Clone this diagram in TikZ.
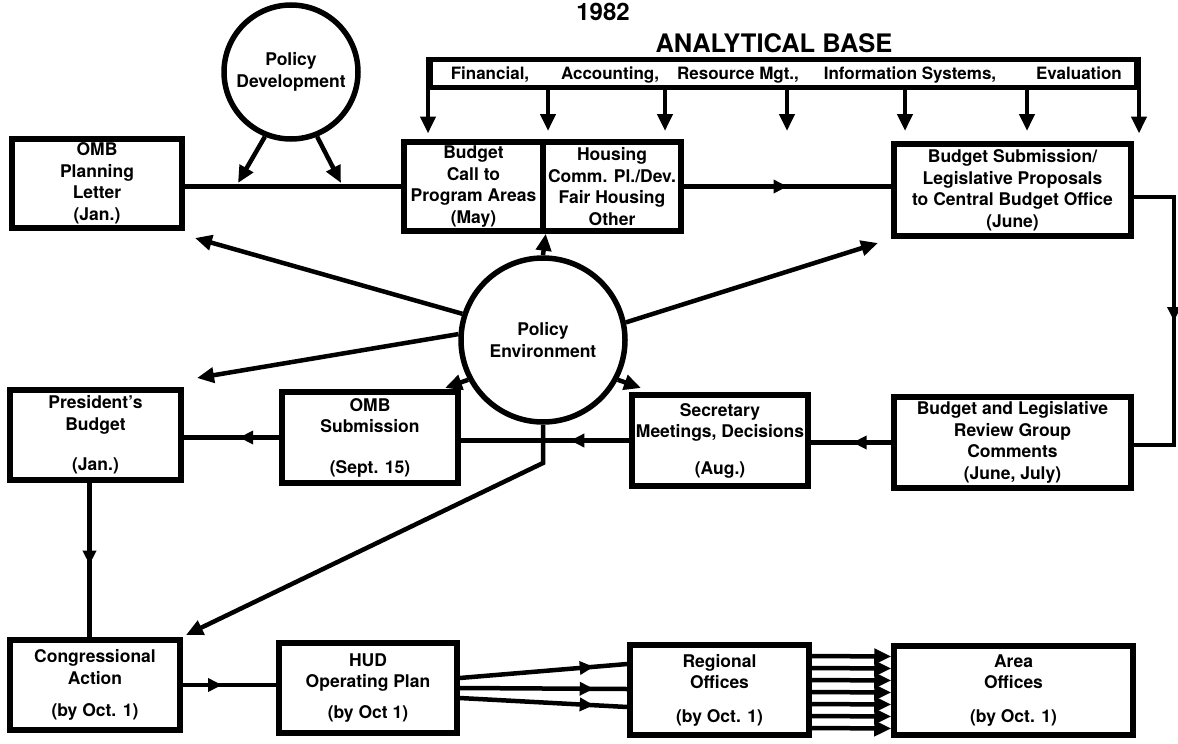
\documentclass[tikz,border=0pt]{standalone}
\usepackage{fontspec}
\setmainfont{TeX Gyre Heros}
\usetikzlibrary{arrows.meta,decorations.markings,calc}

\tikzset{
  pbox/.style={draw, line width=5.5pt, inner sep=0pt, align=center,
    font=\fontsize{17.5}{21.5}\selectfont\bfseries},
  pring/.style={draw, circle, line width=5.5pt, inner sep=0pt, align=center,
    font=\fontsize{17.5}{22}\selectfont\bfseries},
  conn/.style={line width=4.5pt},
  conntip/.style={conn, -{Triangle[length=17pt,width=15pt]}},
  connmid/.style={conn, postaction={decorate},
    decoration={markings, mark=at position #1 with {\arrow{Triangle[length=14pt,width=13pt]}}}},
  connmid/.default=0.5,
  barlbl/.style={anchor=base, inner sep=0pt, font=\fontsize{17}{20}\selectfont\bfseries},
}

\begin{document}
\begin{tikzpicture}[x=1pt,y=-1pt]
\fill[white] (0,0) rectangle (1178,744);
\useasboundingbox (0,0) rectangle (1178,744);

% headings
\node[anchor=base, inner sep=0pt, font=\fontsize{24}{26}\selectfont\bfseries] (year) at (603,20) {1982};
\node[anchor=base, inner sep=0pt, font=\fontsize{25.5}{28}\selectfont\bfseries] (abase) at (774,52) {ANALYTICAL BASE};

% analytical base bar
\node[draw, line width=5pt, minimum width=706pt, minimum height=28pt, inner sep=0pt] (bar) at (783.5,73) {};
\node[barlbl] (fin) at (490,79) {Financial,};
\node[barlbl] (acc) at (610,79) {Accounting,};
\node[barlbl] (res) at (738,79) {Resource Mgt.,};
\node[barlbl] (inf) at (910,79) {Information Systems,};
\node[barlbl] (eva) at (1079,79) {Evaluation};

\path (bar.south west) ++(0,44) coordinate (a1);
\coordinate (a2) at (548,131);
\coordinate (a3) at (665,131);
\coordinate (a4) at (787,131);
\coordinate (a5) at (905,131);
\coordinate (a6) at (1027,131);
\path (bar.south east) ++(0,44) coordinate (a7);
\draw[conntip] (bar.north west) -- (a1);
\draw[conntip] (bar.north east) -- (a7);
\foreach \c in {a2,a3,a4,a5,a6} \draw[conntip] (bar.south -| \c) -- (\c);

% boxes, top row
\node[pbox, minimum width=170pt, minimum height=89pt] (plan) at (97,183.5) {OMB\\Planning\\Letter\\(Jan.)};
\node[pbox, minimum width=139pt, minimum height=89pt] (call) at (473.5,186.5) {Budget\\Call to\\Program Areas\\(May)};
\node[pbox, minimum width=138pt, minimum height=89pt] (housing) at (612,186.5) {Housing\\Comm. Pl./Dev.\\Fair Housing\\Other};
\node[pbox, minimum width=237pt, minimum height=92pt] (submit) at (1012.5,190) {Budget Submission/\\Legislative Proposals\\to Central Budget Office\\(June)};

% circles
\node[pring, minimum size=134pt] (dev) at (291,72) {Policy\\Development};
\node[pring, minimum size=164pt] (env) at (543,340) {Policy\\Environment};

% boxes, middle row
\node[pbox, minimum width=171pt, minimum height=90pt] (pres) at (95.5,435) {President's\\Budget\\[19pt](Jan.)};
\node[pbox, minimum width=176pt, minimum height=91pt] (omb) at (370,437.5) {OMB\\Submission\\[19pt](Sept. 15)};
\node[pbox, minimum width=176pt, minimum height=91pt] (sec) at (720,440.5) {Secretary\\Meetings, Decisions\\[15pt](Aug.)};
\node[pbox, minimum width=237pt, minimum height=91pt] (review) at (1012.5,442.5) {Budget and Legislative\\Review Group\\Comments\\(June, July)};

% boxes, bottom row
\node[pbox, minimum width=170pt, minimum height=90pt] (cong) at (95,685) {Congressional\\Action\\[11pt](by Oct. 1)};
\node[pbox, minimum width=178pt, minimum height=90pt] (hud) at (368,688) {HUD\\Operating Plan\\[9pt](by Oct 1)};
\node[pbox, minimum width=179pt, minimum height=90pt] (reg) at (719.5,690) {Regional\\Offices\\[12pt](by Oct. 1)};
\node[pbox, minimum width=239pt, minimum height=89pt] (area) at (1013.5,690.5) {Area\\Offices\\[12pt](by Oct. 1)};

% top row flow
\draw[conn] (plan.east |- call.west) -- (call.west);
\coordinate (dl) at (238,183);
\coordinate (dr) at (341,183);
\draw[conntip] (dev.248) -- (dl);
\draw[conntip] (dev.292) -- (dr);
\draw[conntip] (env.north) -- (call.south east);
\draw[connmid] (housing.east) -- (housing.east -| submit.west);
\coordinate (rc) at (1174,320);
\draw[connmid] ([yshift=-7pt]submit.east) -| (rc) |- ([yshift=-2.5pt]review.east);

% policy environment influences
\coordinate (tplan) at (195,238);
\coordinate (tpres) at (197,378);
\coordinate (tsub) at (878,243);
\coordinate (tomb) at (445,388);
\coordinate (tsec) at (641,388);
\coordinate (bend) at (543,463);
\coordinate (tcong) at (186,635);
\draw[conntip] (env.162) -- (tplan);
\draw[conntip] (env.176) -- (tpres);
\draw[conntip] (env.12) -- (tsub);
\draw[conntip] (env.208) -- (tomb);
\draw[conntip] (env.-28) -- (tsec);
\draw[conntip] (env.south) -- (bend) -- (tcong);

% middle row flow
\draw[connmid=0.48] (review.west) -- (review.west -| sec.east);
\draw[connmid=0.35] (sec.west) -- (sec.west -| omb.east);
\draw[connmid=0.42] (omb.west) -- (omb.west -| pres.east);
\draw[connmid=0.53] ([xshift=-6pt]pres.south) -- ([xshift=-6pt]pres.south |- cong.north);

% bottom row flow
\draw[connmid=0.42] (cong.east) -- (cong.east -| hud.west);
\foreach \s/\e in {10/26, 0/1, -10/-17}
  \draw[connmid=0.8] ([yshift=\s pt]hud.east) -- ([yshift=\e pt]reg.west);
\foreach \s in {34,22,10,-2,-14,-26,-38}
  \draw[conntip] ([yshift=\s pt]reg.east) -- ([yshift=\s pt]area.west);
\end{tikzpicture}
\end{document}
